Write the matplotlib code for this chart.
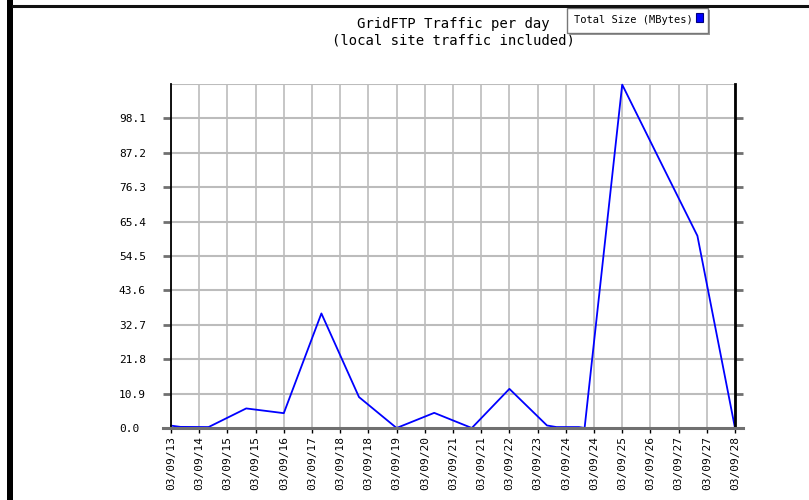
import numpy as np
import matplotlib
matplotlib.use("Agg")
from matplotlib import pyplot as plt
from matplotlib.patches import Rectangle

# daily traffic (day of month, MBytes)
days = [13, 13.25, 14, 15, 16, 17, 18, 19, 20, 21, 22, 23, 23.25, 23.85, 24, 25, 26, 27, 28]
traffic = [0.75, 0.35, 0.3, 6.2, 4.7, 36.3, 9.8, 0.0, 4.8, 0.0, 12.4, 0.8, 0.3, 0.3, 0.0,
           108.8, 84.8, 60.9, 0.0]

xtick_labels = ["03/09/13", "03/09/14", "03/09/15", "03/09/15", "03/09/16", "03/09/17",
                "03/09/18", "03/09/18", "03/09/19", "03/09/20", "03/09/21", "03/09/21",
                "03/09/22", "03/09/23", "03/09/24", "03/09/24", "03/09/25", "03/09/26",
                "03/09/27", "03/09/27", "03/09/28"]
ytick_labels = ["0.0", "10.9", "21.8", "32.7", "43.6", "54.5", "65.4", "76.3", "87.2", "98.1"]

title1 = "GridFTP Traffic per day"
title2 = "(local site traffic included)"
legend_text = "Total Size (MBytes)"

mono = "DejaVu Sans Mono"
grid_col = "#bcbcbc"
tick_col = "#707070"

fig = plt.figure(figsize=(8.09, 5.0), dpi=100)
fig.patch.set_facecolor("white")

W, H = 809, 500
ax = fig.add_axes([171 / W, 72 / H, 564 / W, 344 / H])

xt = np.linspace(13, 28, len(xtick_labels))
yt = [float(s) for s in ytick_labels]

ax.plot(days, traffic, color="#0000ff", lw=1.3, zorder=3, clip_on=False)

ax.set_xlim(13, 28)
ax.set_ylim(0, 109)

# grid
for x in xt:
    ax.axvline(x, color=grid_col, lw=1.2, zorder=1)
for y in yt[1:] + [109]:
    ax.axhline(y, color=grid_col, lw=1.5, zorder=1)

ax.set_xticks(xt)
ax.set_xticklabels(xtick_labels, rotation=90, fontsize=8, family=mono)
ax.tick_params(axis="x", length=3.6, width=1, color="black", pad=2)

ax.set_yticks(yt)
ax.set_yticklabels(ytick_labels, fontsize=8, family=mono, ha="left")
ax.tick_params(axis="y", length=6, width=2, color=tick_col, pad=31.5,
               left=True, right=True)

for s in ["top", "bottom"]:
    ax.spines[s].set_visible(False)
ax.spines["left"].set_color("black")
ax.spines["left"].set_linewidth(1.3)
ax.spines["right"].set_color("black")
ax.spines["right"].set_linewidth(2)
ax.spines["left"].set_zorder(4)
ax.spines["right"].set_zorder(4)

# bottom baseline running past both spines
fig.add_artist(plt.Line2D([163 / W, 743 / W], [72 / H, 72 / H], color=tick_col, lw=2.2,
                          zorder=5))

# titles
fig.text(453 / W, 1 - 24 / H, title1, ha="center", va="center", fontsize=10, family=mono)
fig.text(453 / W, 1 - 41 / H, title2, ha="center", va="center", fontsize=10, family=mono)

# legend box with shadow
fig.add_artist(Rectangle((569 / W, 1 - 35 / H), 141 / W, 25 / H, facecolor="#999999",
                         edgecolor="none", transform=fig.transFigure, zorder=5))
fig.add_artist(Rectangle((567 / W, 1 - 33 / H), 141 / W, 25 / H, facecolor="white",
                         edgecolor="#777777", lw=1, transform=fig.transFigure, zorder=6))
fig.text(633 / W, 1 - 20 / H, legend_text, ha="center", va="center", fontsize=7.5,
         family=mono, zorder=7)
fig.add_artist(Rectangle((696 / W, 1 - 22 / H), 7 / W, 9 / H, facecolor="#0000ff",
                         edgecolor="#000080", lw=0.8, transform=fig.transFigure, zorder=7))

# frame lines at left and top
fig.add_artist(Rectangle((7 / W, 0), 6 / W, 1, facecolor="black", edgecolor="none",
                         transform=fig.transFigure, zorder=8))
fig.add_artist(plt.Line2D([13 / W, 1], [1 - 6 / H, 1 - 6 / H], color="#111111", lw=2.2,
                          zorder=8))

fig.savefig("out.png", dpi=100)
